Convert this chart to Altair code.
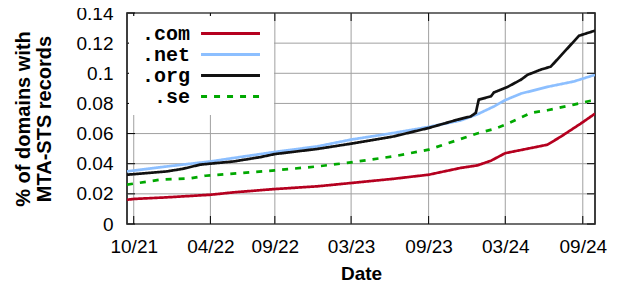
import altair as alt
import pandas as pd

tlds = [".com", ".net", ".org", ".se"]
colors = ["#b5001f", "#8cbfff", "#111111", "#00a800"]
dashes = [[1, 0], [1, 0], [1, 0], [6, 7]]

com_dates = ["2021-09-15", "2021-10-01", "2021-12-19", "2022-04-01", "2022-05-26", "2022-09-01",
             "2022-12-11", "2023-03-01", "2023-06-10", "2023-09-01", "2023-11-16", "2023-12-26",
             "2024-01-27", "2024-03-01", "2024-06-09", "2024-07-11", "2024-08-27", "2024-09-30"]
com_values = [0.0161, 0.0166, 0.0177, 0.0194, 0.0210, 0.0232,
              0.0250, 0.0272, 0.0300, 0.0327, 0.0372, 0.0389,
              0.0420, 0.0470, 0.0526, 0.0580, 0.0666, 0.0732]

net_dates = ["2021-09-15", "2021-12-19", "2022-04-01", "2022-05-26", "2022-09-01", "2022-12-11",
             "2023-03-01", "2023-06-10", "2023-09-01", "2023-11-16", "2023-12-26", "2024-02-03",
             "2024-03-01", "2024-04-07", "2024-06-09", "2024-08-11", "2024-09-30"]
net_values = [0.0349, 0.0382, 0.0415, 0.0438, 0.0478, 0.0515,
              0.0560, 0.0604, 0.0644, 0.0687, 0.0728, 0.0780,
              0.0822, 0.0865, 0.0910, 0.0946, 0.0990]

org_dates = ["2021-09-15", "2021-12-19", "2022-01-27", "2022-03-08", "2022-05-26", "2022-07-29",
             "2022-09-01", "2022-12-11", "2023-03-01", "2023-06-10", "2023-09-01", "2023-10-07",
             "2023-11-08", "2023-12-10", "2023-12-22", "2023-12-29", "2024-01-27", "2024-02-03",
             "2024-03-06", "2024-04-07", "2024-04-23", "2024-05-24", "2024-06-17", "2024-08-23",
             "2024-09-30"]
org_values = [0.0327, 0.0349, 0.0367, 0.0394, 0.0415, 0.0444,
              0.0464, 0.0498, 0.0533, 0.0581, 0.0637, 0.0666,
              0.0692, 0.0714, 0.0737, 0.0825, 0.0847, 0.0873,
              0.0909, 0.0957, 0.0990, 0.1024, 0.1044, 0.1249,
              0.1283]

se_dates = ["2021-09-15", "2021-12-03", "2022-02-13", "2022-03-20", "2022-04-01", "2022-09-01",
            "2022-12-11", "2023-03-01", "2023-06-10", "2023-09-01", "2023-11-16", "2023-12-29",
            "2024-02-03", "2024-03-01", "2024-05-01", "2024-06-09", "2024-08-11", "2024-09-20",
            "2024-09-30"]
se_values = [0.0261, 0.0294, 0.0303, 0.0320, 0.0322, 0.0356,
             0.0382, 0.0409, 0.0449, 0.0493, 0.0564, 0.0604,
             0.0630, 0.0659, 0.0737, 0.0755, 0.0792, 0.0818,
             0.0822]

tick_dates = ["2021-10-01", "2022-04-01", "2022-09-01", "2023-03-01",
              "2023-09-01", "2024-03-01", "2024-09-01"]
y_ticks = [0, 0.02, 0.04, 0.06, 0.08, 0.1, 0.12, 0.14]

W, H = 468, 211
TICK = 8

frames = []
for name, d, v in [(".com", com_dates, com_values), (".net", net_dates, net_values),
                   (".org", org_dates, org_values), (".se", se_dates, se_values)]:
    frames.append(pd.DataFrame({"date": d, "value": v, "tld": name}))
df = pd.concat(frames, ignore_index=True)
xt_df = pd.DataFrame({"date": tick_dates})
yt_df = pd.DataFrame({"value": y_ticks})

x_scale = alt.Scale(type="utc",
                    domain=[alt.DateTime(year=2021, month=9, date=15, utc=True),
                            alt.DateTime(year=2024, month=9, date=30, utc=True)])
y_scale = alt.Scale(domain=[0, 0.14], nice=False, zero=True)
x_vals = [alt.DateTime(year=int(s[:4]), month=int(s[5:7]), date=1, utc=True) for s in tick_dates]

FONT = "Liberation Sans"

main_x = alt.Axis(values=x_vals, labelExpr="utcFormat(datum.value, '%m/%y')", orient="bottom",
                  grid=False, ticks=False, tickSize=0, domain=False, labelFont=FONT,
                  labelFontSize=19, labelColor="black", labelPadding=13, labelFlush=False,
                  labelOverlap=False, title="Date", titleFont=FONT, titleFontSize=19,
                  titleFontWeight="bold", titleColor="black", titlePadding=8)
main_y = alt.Axis(values=y_ticks, orient="left", grid=False, ticks=False, tickSize=0,
                  domain=False, labelFont=FONT, labelFontSize=19, labelColor="black",
                  labelPadding=14,
                  labelExpr="datum.value == 0 ? '0' : format(datum.value, '.2~f')",
                  labelFlush=False, labelOverlap=False,
                  title=["% of domains with", "MTA-STS records"], titleFont=FONT,
                  titleFontSize=20, titleFontWeight="bold", titleColor="black",
                  titleLineHeight=21, titlePadding=22)

legend = alt.Legend(title=None, orient="none", legendX=2, legendY=3, direction="vertical",
                    symbolType="M6.06,0H12.61", symbolSize=324, symbolStrokeWidth=3,
                    labelFont="Liberation Mono", labelFontWeight="bold", labelFontSize=20,
                    labelColor="black", labelAlign="right", labelOffset=33,
                    rowPadding=0, padding=7, fillColor="white", strokeColor="white",
                    labelLimit=200)

X = alt.X("date:T", scale=x_scale, axis=main_x)
Y = alt.Y("value:Q", scale=y_scale, axis=main_y)

grid_style = dict(color="#a0a0a0", strokeWidth=1)
grid_y = alt.Chart(yt_df).mark_rule(**grid_style).encode(
    y=Y, x=alt.value(0), x2=alt.value(W))
grid_x = alt.Chart(xt_df).mark_rule(**grid_style).encode(
    x=X, y=alt.value(0), y2=alt.value(H))

lines = alt.Chart(df).mark_line(strokeWidth=2.7, clip=True).encode(
    x=X, y=Y,
    color=alt.Color("tld:N", scale=alt.Scale(domain=tlds, range=colors), legend=legend),
    strokeDash=alt.StrokeDash("tld:N", scale=alt.Scale(domain=tlds, range=dashes), legend=legend),
    detail="tld:N",
)

rule_style = dict(color="black", strokeWidth=1)
y_left = alt.Chart(yt_df).mark_rule(**rule_style).encode(
    y=Y, x=alt.value(0), x2=alt.value(TICK))
y_right = alt.Chart(yt_df).mark_rule(**rule_style).encode(
    y=Y, x=alt.value(W - TICK), x2=alt.value(W))
x_bottom = alt.Chart(xt_df).mark_rule(**rule_style).encode(
    x=X, y=alt.value(H - TICK), y2=alt.value(H))
x_top = alt.Chart(xt_df).mark_rule(**rule_style).encode(
    x=X, y=alt.value(0), y2=alt.value(TICK))

chart = alt.layer(grid_y, grid_x, lines, y_left, y_right, x_bottom, x_top).properties(
    width=W, height=H,
    autosize=alt.AutoSizeParams(type="none"),
    padding={"left": 119, "top": 5, "right": 21, "bottom": 58},
    background="white",
).configure_view(stroke="black", strokeWidth=1.5)

chart.save("out.html", embed_options={"renderer": "svg", "actions": False})
